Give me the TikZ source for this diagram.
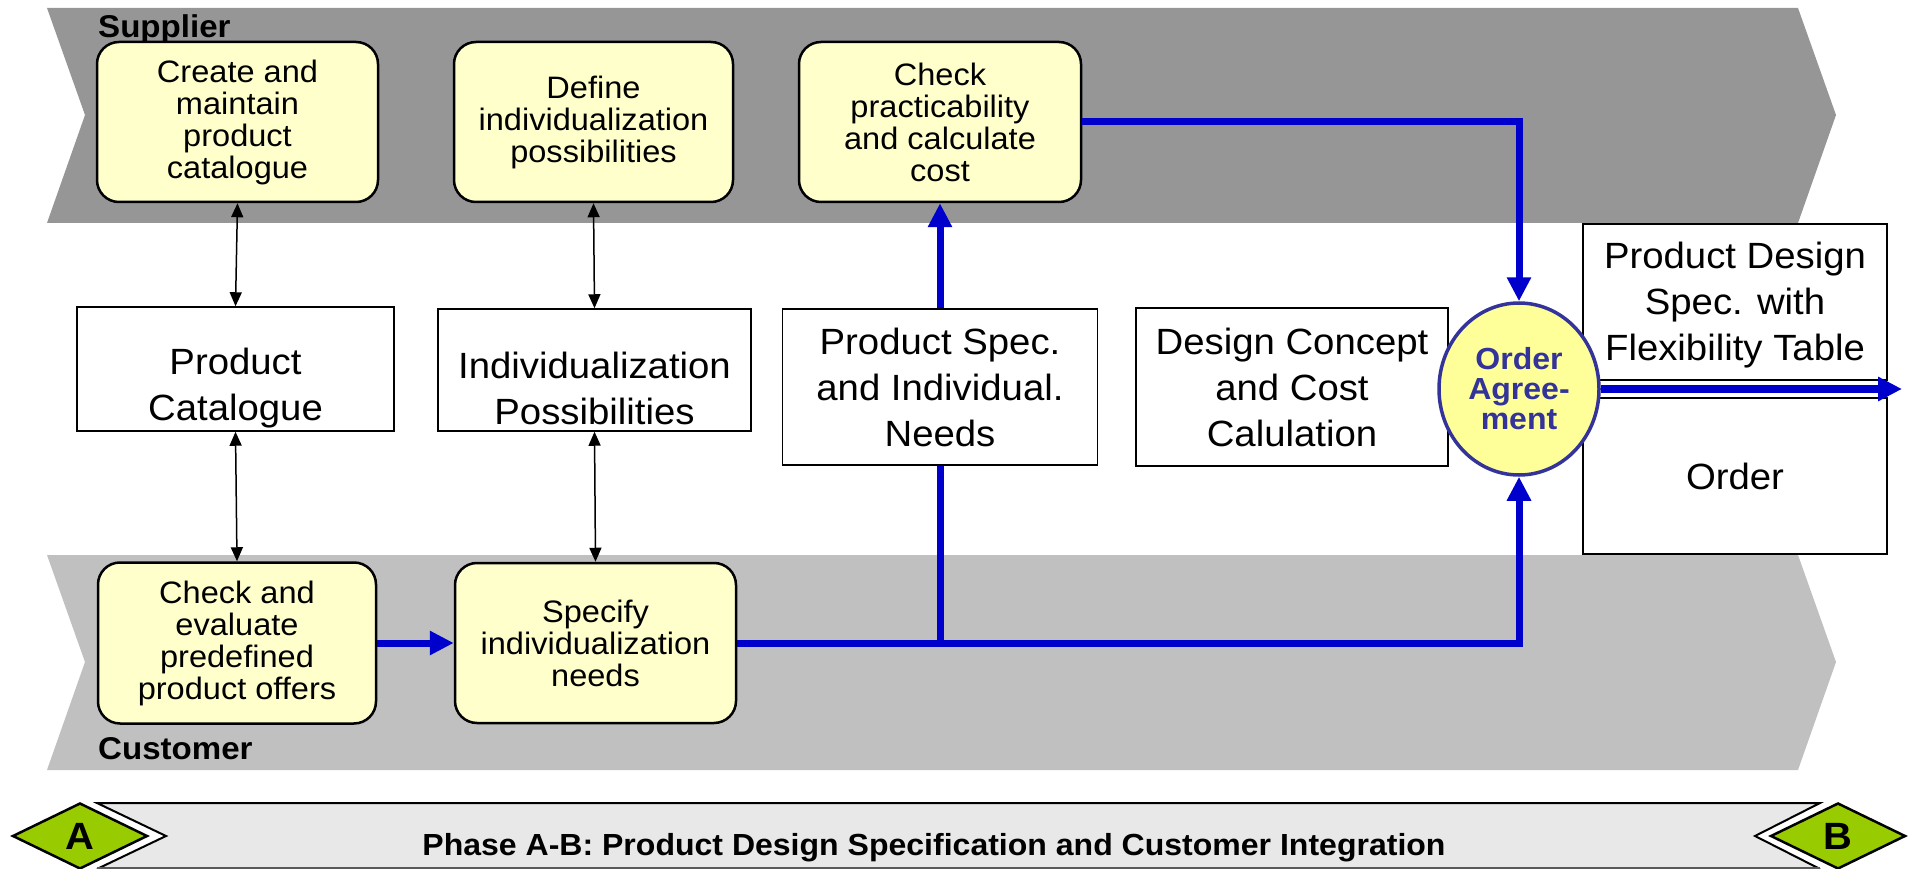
\documentclass[tikz,border=0pt]{standalone}
\usepackage{fontspec}
\setmainfont[FakeStretch=1.05]{Liberation Sans}
\usetikzlibrary{arrows.meta,shapes.geometric}

\definecolor{supgray}{HTML}{969696}
\definecolor{cusgray}{HTML}{C0C0C0}
\definecolor{actyellow}{HTML}{FFFFCC}
\definecolor{flowblue}{HTML}{0000CC}
\definecolor{orderblue}{HTML}{333399}
\definecolor{orderfill}{HTML}{FFFF99}
\definecolor{bannergray}{HTML}{E8E8E8}
\definecolor{gategreen}{HTML}{99CC00}

\begin{document}
\begin{tikzpicture}[x=1pt, y=-1pt,
  activity/.style={draw=black, line width=2.5pt, fill=actyellow, rounded corners=22pt,
    align=center, inner sep=0pt, font=\fontsize{31}{32}\selectfont},
  docfont/.style={align=center, inner sep=0pt, font=\fontsize{36.5}{46}\selectfont},
  docbox/.style={draw=black, line width=1.5pt, fill=white, docfont},
  lanelabel/.style={anchor=base west, inner sep=0pt, font=\bfseries\fontsize{31.5}{31.5}\selectfont},
  flow/.style={draw=flowblue, line width=7pt, -{Triangle[length=24pt,width=23pt]}},
  plainflow/.style={draw=flowblue, line width=7pt},
  link/.style={draw=black, line width=1.5pt,
    {Triangle[length=14pt,width=12pt]}-{Triangle[length=14pt,width=12pt]}},
  gate/.style={diamond, draw=black, line width=2.5pt, fill=gategreen, minimum width=135pt,
    minimum height=66pt, inner sep=0pt, font=\bfseries\fontsize{38}{38}\selectfont}
]
\useasboundingbox (0,0) rectangle (1920,869);

% swim lanes
\fill[supgray] (47,8) -- (1798,8) -- (1836,115) -- (1798,223) -- (47,223) -- (85,115) -- cycle;
\fill[cusgray] (47,555) -- (1798,555) -- (1836,662) -- (1798,770) -- (47,770) -- (85,662) -- cycle;
\node[lanelabel] (suplabel) at (98,38) {Supplier};
\node[lanelabel] (cuslabel) at (98,759) {Customer};

% activities
\node[activity, minimum width=281pt, minimum height=160pt] (a1) at (237.5,122)
  {Create and\\maintain\\product\\catalogue};
\node[activity, minimum width=279pt, minimum height=160pt] (a2) at (593.5,122)
  {Define\\individualization\\possibilities};
\node[activity, minimum width=282pt, minimum height=160pt] (a3) at (940,122)
  {Check\\practicability\\and calculate\\cost};
\node[activity, minimum width=278pt, minimum height=161pt] (a4) at (237,643)
  {Check and\\evaluate\\predefined\\product offers};
\node[activity, minimum width=281pt, minimum height=160pt] (a5) at (595.5,643)
  {Specify\\individualization\\needs};

% documents
\node[docbox, minimum width=317pt, minimum height=124pt,
  label={[docfont, yshift=-19pt]center:Product\\Catalogue}] (d1) at (235.5,369) {};
\node[docbox, minimum width=313pt, minimum height=122pt,
  label={[docfont, yshift=-18pt]center:Individualization\\Possibilities}] (d2) at (594.5,370) {};
\node[docbox, minimum width=315pt, minimum height=156pt] (d3) at (940,387)
  {Product Spec.\\and Individual.\\Needs};
\node[docbox, minimum width=312pt, minimum height=158pt] (d4) at (1292,387)
  {Design Concept\\and Cost\\Calulation};
\node[docbox, minimum width=304pt, minimum height=156pt,
  label={[docfont, yshift=-3pt]center:Product Design\\Spec. with\\Flexibility Table}] (d5) at (1735,302) {};
\node[docbox, minimum width=304pt, minimum height=156pt] (d6) at (1735,476)
  {Order};

% order agreement
\node[ellipse, draw=orderblue, line width=3.5pt, fill=orderfill, minimum width=160pt,
  minimum height=172pt, inner sep=0pt, align=center, text=orderblue,
  font=\bfseries\fontsize{30.5}{30}\selectfont] (oa) at (1519,389) {Order\\Agree-\\ment};

% information flow
\coordinate (j) at (940,643);
\coordinate (out) at (1902,389);
\draw[flow] (a4.east) -- (a5.west);
\draw[flow] (a5.east) -| (oa.south);
\draw[plainflow] (j) -- (d3.south);
\draw[flow] (d3.north) -- (a3.south);
\draw[flow] (a3.east) -| (oa.north);
\draw[black, line width=19.5pt, shorten <=1.8pt] (oa.east) -- (d5.south east |- oa.east);
\draw[white, line width=16.5pt, shorten <=1.8pt] (oa.east) -- (d5.south east |- oa.east);
\draw[flow, line width=8pt] (oa.east) -- (out);

% catalogue links
\draw[link] (a1.south) -- (d1.north);
\draw[link] (d1.south) -- (a4.north);
\draw[link] (a2.south) -- (d2.north);
\draw[link] (d2.south) -- (a5.north);

% phase banner
\fill[bannergray] (97,803) -- (1820,803) -- (1755,836) -- (1820,869) -- (97,869) -- (166,836) -- cycle;
\draw[black, line width=2pt, line join=miter] (97,869) -- (166,836) -- (97,803) -- (1820,803) -- (1755,836) -- (1820,869);
\draw[gray!70!black, line width=1.5pt] (97,868) -- (1820,868);
\node[anchor=base, inner sep=0pt, font=\bfseries\fontsize{30.5}{30.5}\selectfont] (phase) at (934,855)
  {Phase A-B: Product Design Specification and Customer Integration};
\node[gate] (gA) at (80,836) {A};
\node[gate] (gB) at (1838,836) {B};
\end{tikzpicture}
\end{document}
